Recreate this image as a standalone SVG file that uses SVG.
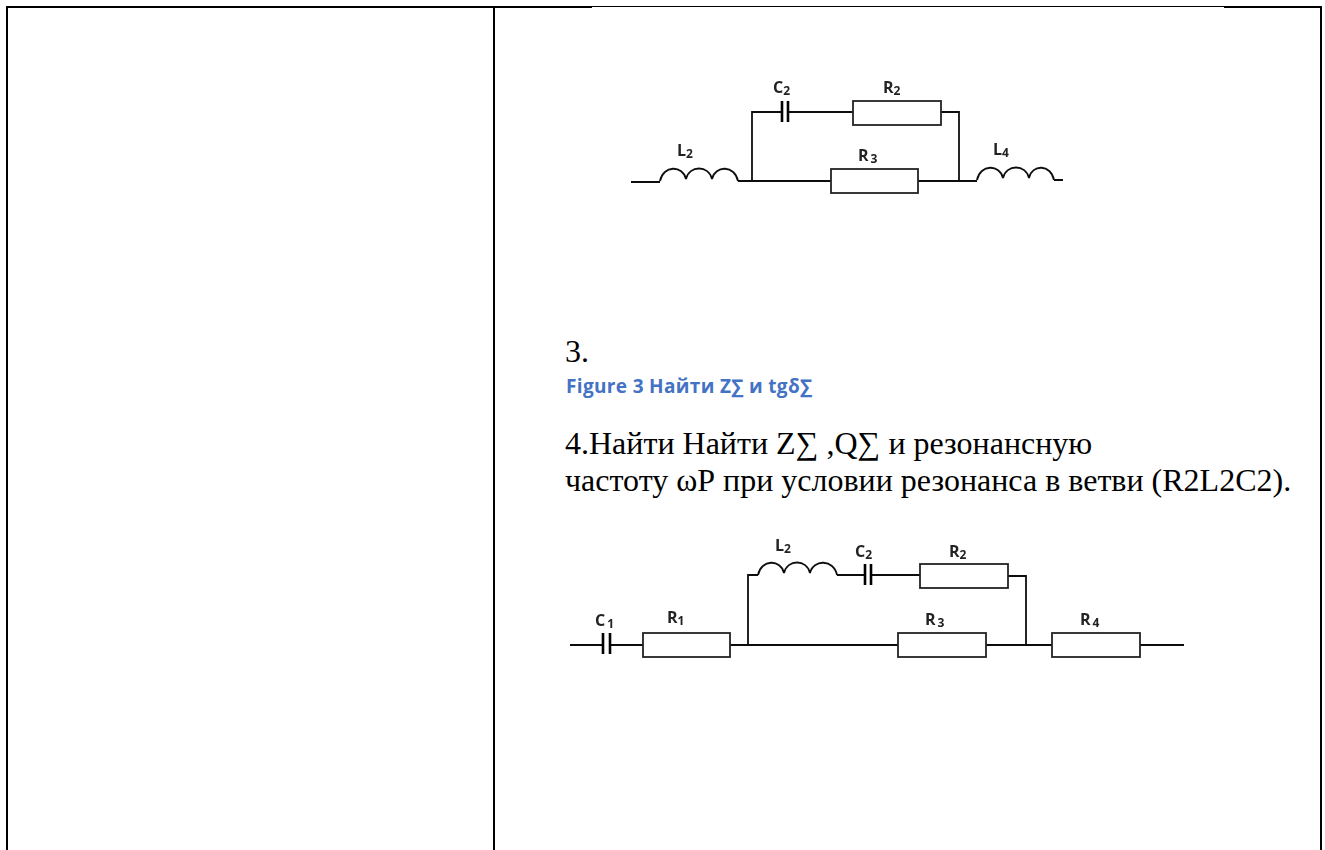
<svg xmlns="http://www.w3.org/2000/svg" width="1325" height="850" viewBox="0 0 1325 850">
<defs><filter id="soft" x="-5%" y="-5%" width="110%" height="110%"><feGaussianBlur stdDeviation="0.35"/></filter></defs>
<style>
.w{fill:none;stroke:#111;stroke-width:1.8}
.r{fill:#fff;stroke:#222;stroke-width:1.8}
.p{fill:none;stroke:#000;stroke-width:2.6}
.l{font-family:"Open Sans",sans-serif;font-weight:700;font-size:16px;fill:#222}
.s{font-size:12px}
.t{font-family:"Liberation Serif",serif;font-size:32px;fill:#000}
.c{font-family:"Open Sans",sans-serif;font-weight:700;font-size:19px;fill:#4472c4}
.b{fill:none;stroke:#000;stroke-width:2}
.soft{filter:url(#soft)}
</style>
<rect width="1325" height="850" fill="#fff"/>
<g id="table">
<path class="b" d="M7 850V7H592M1224 7H1321V850M494 7V850"/>
<path d="M592 6.5H1224" fill="none" stroke="#000" stroke-width="1"/>
</g>
<g id="connectors" class="soft">
<path class="w" d="M631 182H660M738 181H831M752 181V112H782M789 112H853M941 112H959V181M918 181H977M1054 180H1063"/>
<path class="w" d="M570 645H603M611 645H643M730 645H898M748 645V575H758M837 575H864M872 575H920M1008 576H1026V645M986 645H1052M1140 645H1184"/>
</g>
<g id="circuit1" class="soft">
<g id="L2a"><path class="w" d="M660 181C663 165 683 165 686 179C689 165 709 165 712 179C715 165 735 165 738 181"/><text class="l" x="677" y="156">L<tspan class="s" dy="2">2</tspan></text></g>
<g id="C2a"><path class="p" d="M782 101V122M788 101V122"/><text class="l" x="773" y="93">C<tspan class="s" dy="2">2</tspan></text></g>
<g id="R2a"><rect class="r" x="853" y="101" width="88" height="24"/><text class="l" x="883" y="93">R<tspan class="s" dy="2">2</tspan></text></g>
<g id="R3a"><rect class="r" x="831" y="169" width="87" height="24"/><text class="l" x="858" y="161">R<tspan class="s" dx="2" dy="2">3</tspan></text></g>
<g id="L4a"><path class="w" d="M977 180C980 164 1000 164 1003 178C1006 164 1026 164 1029 178C1032 164 1051 164 1054 180"/><text class="l" x="993" y="155">L<tspan class="s" dy="2">4</tspan></text></g>
</g>
<g id="text">
<text class="t" x="565" y="362">3.</text>
<text class="c" x="566" y="393" textLength="246">Figure 3 Найти Z∑ и tgδ∑</text>
<text class="t" x="565" y="454">4.Найти Найти Z∑ ,Q∑ и резонансную</text>
<text class="t" x="565" y="491">частоту ωР при условии резонанса в ветви (R2L2C2).</text>
</g>
<g id="circuit2" class="soft">
<g id="C1b"><path class="p" d="M603 633V654M610 633V654"/><text class="l" x="595" y="626">C<tspan class="s" dx="2" dy="2">1</tspan></text></g>
<g id="R1b"><rect class="r" x="643" y="633" width="87" height="24"/><text class="l" x="667" y="623">R<tspan class="s" dy="2">1</tspan></text></g>
<g id="L2b"><path class="w" d="M758 575C761 559 781 559 784 573C787 559 807 559 810 573C813 559 834 559 837 575"/><text class="l" x="775" y="551">L<tspan class="s" dy="2">2</tspan></text></g>
<g id="C2b"><path class="p" d="M865 564V585M871 564V585"/><text class="l" x="855" y="557">C<tspan class="s" dy="2">2</tspan></text></g>
<g id="R2b"><rect class="r" x="920" y="564" width="88" height="24"/><text class="l" x="949" y="557">R<tspan class="s" dy="2">2</tspan></text></g>
<g id="R3b"><rect class="r" x="898" y="633" width="88" height="24"/><text class="l" x="925" y="625">R<tspan class="s" dx="2" dy="2">3</tspan></text></g>
<g id="R4b"><rect class="r" x="1052" y="633" width="88" height="24"/><text class="l" x="1080" y="625">R<tspan class="s" dx="2" dy="2">4</tspan></text></g>
</g>
</svg>
